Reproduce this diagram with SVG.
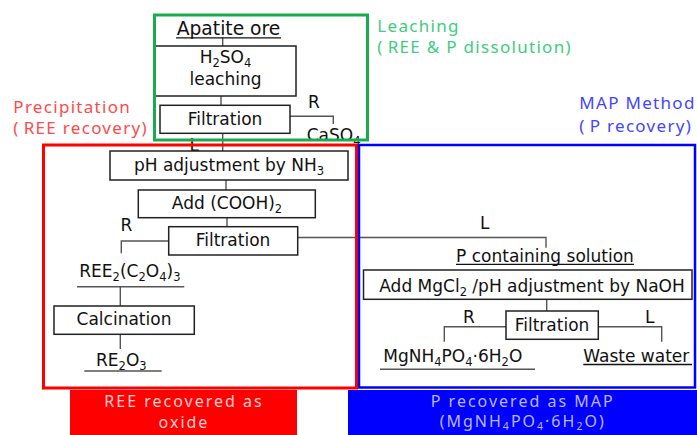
<svg xmlns="http://www.w3.org/2000/svg" width="697" height="435" viewBox="0 0 697 435">
<style>
.box{fill:#fff;stroke:#222;stroke-width:1.5}
.t{font-family:"DejaVu Sans",Verdana,sans-serif;font-size:17px;fill:#111}
.m{text-anchor:middle}
.s{font-size:11.5px}
.ln{fill:none;stroke:#555;stroke-width:1.4}
.lab{font-family:"Noto Sans",Roboto,sans-serif;font-size:17px;letter-spacing:1.3px}
.res{font-family:"Noto Sans",Roboto,sans-serif;font-size:16px;letter-spacing:2px}
</style>
<rect width="697" height="435" fill="#fff"/>

<g id="connectors">
<path class="ln" d="M222.7 37.5V46"/>
<path class="ln" d="M221 96V105"/>
<path class="ln" d="M290 116.3H333.3V124"/>
<path class="ln" d="M222.7 133V151"/>
<path class="ln" d="M226 180V190"/>
<path class="ln" d="M227 217.7V226.7"/>
<path class="ln" d="M168.7 241H121.3V253.3"/>
<path class="ln" d="M297.7 237.5H546V247.7"/>
<path class="ln" d="M77 286.7H184.3M120.3 286.7V306"/>
<path class="ln" d="M120.3 334.3V349"/>
<path class="ln" d="M84.3 371H161.7"/>
<path class="ln" d="M546.7 299.3V311"/>
<path class="ln" d="M506 326.7H444.3V341.7"/>
<path class="ln" d="M598.3 326.7H661.7V341.7"/>
<path class="ln" d="M380 369.3H535"/>
</g>

<g id="n-apatite">
<text class="t m" x="228.5" y="35" style="font-size:18.7px">Apatite ore</text>
<path d="M176 37.8H281" stroke="#111" stroke-width="1.3"/>
</g>
<g id="n-leach">
<rect class="box" x="155" y="46" width="141" height="50"/>
<text class="t m" x="225.5" y="63">H<tspan class="s" dy="4">2</tspan><tspan dy="-4">SO</tspan><tspan class="s" dy="4">4</tspan></text>
<text class="t m" x="225.5" y="85">leaching</text>
</g>
<g id="n-filt1">
<rect class="box" x="160" y="105.3" width="130" height="28"/>
<text class="t m" x="225" y="124.5">Filtration</text>
</g>
<text class="t" x="308" y="108">R</text>
<g id="n-caso4">
<text class="t" x="306.7" y="141">CaSO<tspan class="s" dy="4">4</tspan></text>
</g>
<text class="t" x="189.5" y="150.5">L</text>

<g id="n-ph">
<rect class="box" x="110" y="151" width="238" height="29"/>
<text class="t m" x="229" y="171">pH adjustment by NH<tspan class="s" dy="4">3</tspan></text>
</g>
<g id="n-cooh">
<rect class="box" x="138.3" y="190" width="177" height="27.7"/>
<text class="t m" x="227" y="208.5">Add (COOH)<tspan class="s" dy="4">2</tspan></text>
</g>
<g id="n-filt2">
<rect class="box" x="168.7" y="226.7" width="129" height="28.3"/>
<text class="t m" x="233" y="245.5">Filtration</text>
</g>
<text class="t" x="120.5" y="231">R</text>
<text class="t" x="480" y="229">L</text>
<g id="n-psol">
<text class="t m" x="545" y="261.5">P containing solution</text>
<path d="M456 264.3H634" stroke="#111" stroke-width="1.3"/>
</g>
<g id="n-ree-ox">
<text class="t" x="79.3" y="277">REE<tspan class="s" dy="4">2</tspan><tspan dy="-4">(C</tspan><tspan class="s" dy="4">2</tspan><tspan dy="-4">O</tspan><tspan class="s" dy="4">4</tspan><tspan dy="-4">)</tspan><tspan class="s" dy="4">3</tspan></text>
</g>
<g id="n-calc">
<rect class="box" x="54" y="306" width="140.3" height="28.3"/>
<text class="t m" x="124" y="324.5">Calcination</text>
</g>
<g id="n-re2o3">
<text class="t" x="96" y="366">RE<tspan class="s" dy="4">2</tspan><tspan dy="-4">O</tspan><tspan class="s" dy="4">3</tspan></text>
</g>

<g id="n-mgcl">
<rect class="box" x="363.5" y="270" width="328.5" height="29.3"/>
<text class="t m" x="532" y="291.7">Add MgCl<tspan class="s" dy="4">2</tspan><tspan dy="-4"> /pH adjustment by NaOH</tspan></text>
</g>
<g id="n-filt3">
<rect class="box" x="506" y="311" width="92.3" height="28.3"/>
<text class="t m" x="552" y="330.5">Filtration</text>
</g>
<text class="t" x="463" y="322.7">R</text>
<text class="t" x="645" y="322.7">L</text>
<g id="n-map">
<text class="t" x="383.3" y="361.7">MgNH<tspan class="s" dy="4">4</tspan><tspan dy="-4">PO</tspan><tspan class="s" dy="4">4</tspan><tspan dy="-4">·6H</tspan><tspan class="s" dy="4">2</tspan><tspan dy="-4">O</tspan></text>
</g>
<g id="n-waste">
<text class="t" x="583.3" y="361.7">Waste water</text>
<path d="M583.3 364.5H692" stroke="#111" stroke-width="1.3"/>
</g>

<g id="regions">
<rect x="154.5" y="15" width="213" height="125" fill="none" stroke="#1aab4f" stroke-width="3"/>
<rect x="43.5" y="145" width="313" height="243" fill="none" stroke="#ff0000" stroke-width="3"/>
<rect x="359" y="145" width="336" height="242.5" fill="none" stroke="#0000ff" stroke-width="2.5"/>
</g>

<g id="labels">
<text class="lab" x="377.3" y="31.7" fill="#40cc80">Leaching</text>
<text class="lab" x="377.3" y="53.3" fill="#40cc80">(<tspan dx="4">REE &amp; P dissolution)</tspan></text>
<text class="lab" x="579.3" y="109" fill="#4545ff">MAP Method</text>
<text class="lab" x="579.3" y="131.7" fill="#4545ff">(<tspan dx="4">P recovery)</tspan></text>
<text class="lab" x="13.3" y="112.7" fill="#ff4a4a">Precipitation</text>
<text class="lab" x="13.3" y="134.3" fill="#ff4a4a">(<tspan dx="4">REE recovery)</tspan></text>
</g>

<g id="n-ree-result">
<rect x="70" y="390" width="227" height="45" fill="#ff0000"/>
<text class="res m" x="184" y="406.7" fill="#ffd0d0">REE recovered as</text>
<text class="res m" x="184" y="428.3" fill="#ffd0d0">oxide</text>
</g>
<g id="n-p-result">
<rect x="348" y="390" width="349" height="45" fill="#0000ff"/>
<text class="res m" x="522.7" y="406.5" fill="#b8b8ff">P recovered as MAP</text>
<text class="res m" x="522.7" y="426.5" fill="#b8b8ff">(MgNH<tspan style="font-size:10.5px" dy="3">4</tspan><tspan dy="-3">PO</tspan><tspan style="font-size:10.5px" dy="3">4</tspan><tspan dy="-3">·6H</tspan><tspan style="font-size:10.5px" dy="3">2</tspan><tspan dy="-3">O)</tspan></text>
</g>
</svg>
